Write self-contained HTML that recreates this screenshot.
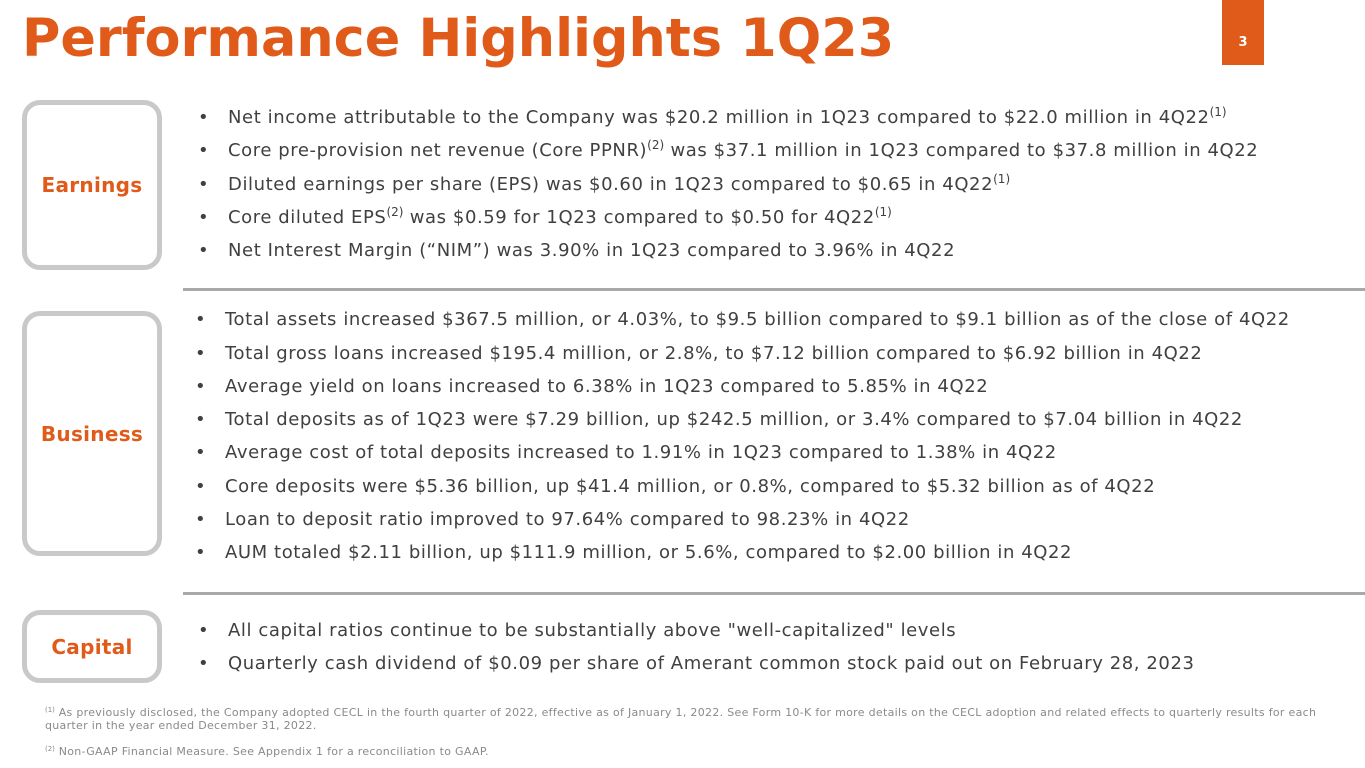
<!DOCTYPE html>
<html><head><meta charset="utf-8"><style>
body{margin:0;width:1365px;height:768px;background:#fff;position:relative;overflow:hidden;font-family:"DejaVu Sans","Liberation Sans",sans-serif;}
.t{position:absolute;left:22px;top:8px;font-size:52.4px;font-weight:bold;color:#E05A19;white-space:nowrap;letter-spacing:0px}
.badge{position:absolute;left:1222px;top:0;width:42px;height:65px;background:#E05A19;color:#fff;font-size:13px;font-weight:bold;text-align:center;line-height:86px}
.box{position:absolute;left:22px;width:130px;border:5px solid #c9c9c9;border-radius:18px;display:flex;align-items:center;justify-content:center;color:#E05A19;font-weight:bold;font-size:20px;letter-spacing:0.3px}
.sep{position:absolute;left:183px;width:1182px;height:3px;background:#a8a8a8}
.r{position:absolute;font-size:18px;letter-spacing:0.58px;color:#404040;white-space:nowrap;line-height:20px}
.r:before{content:"•";position:absolute;left:-30px}
sup{font-size:12px;vertical-align:7px;line-height:0;letter-spacing:0}
.f{position:absolute;left:45px;font-size:11px;letter-spacing:0.3px;color:#8a8a8a;line-height:13px;width:1300px}
</style></head><body>
<div class="t">Performance Highlights 1Q23</div>
<div class="badge">3</div>
<div class="box" style="top:100px;height:160px">Earnings</div>
<div class="box" style="top:311px;height:235px">Business</div>
<div class="box" style="top:610px;height:63px">Capital</div>
<div class="sep" style="top:288px"></div>
<div class="sep" style="top:592px"></div>
<div class="r" style="left:228px;top:108px">Net income attributable to the Company was $20.2 million in 1Q23 compared to $22.0 million in 4Q22<sup>(1)</sup></div>
<div class="r" style="left:228px;top:141px">Core pre-provision net revenue (Core PPNR)<sup>(2)</sup> was $37.1 million in 1Q23 compared to $37.8 million in 4Q22</div>
<div class="r" style="left:228px;top:175px">Diluted earnings per share (EPS) was $0.60 in 1Q23 compared to $0.65 in 4Q22<sup>(1)</sup></div>
<div class="r" style="left:228px;top:208px">Core diluted EPS<sup>(2)</sup> was $0.59 for 1Q23 compared to $0.50 for 4Q22<sup>(1)</sup></div>
<div class="r" style="left:228px;top:241px">Net Interest Margin (“NIM”) was 3.90% in 1Q23 compared to 3.96% in 4Q22</div>
<div class="r" style="left:225px;top:310px">Total assets increased $367.5 million, or 4.03%, to $9.5 billion compared to $9.1 billion as of the close of 4Q22</div>
<div class="r" style="left:225px;top:344px">Total gross loans increased $195.4 million, or 2.8%, to $7.12 billion compared to $6.92 billion in 4Q22</div>
<div class="r" style="left:225px;top:377px">Average yield on loans increased to 6.38% in 1Q23 compared to 5.85% in 4Q22</div>
<div class="r" style="left:225px;top:410px">Total deposits as of 1Q23 were $7.29 billion, up $242.5 million, or 3.4% compared to $7.04 billion in 4Q22</div>
<div class="r" style="left:225px;top:443px">Average cost of total deposits increased to 1.91% in 1Q23 compared to 1.38% in 4Q22</div>
<div class="r" style="left:225px;top:477px">Core deposits were $5.36 billion, up $41.4 million, or 0.8%, compared to $5.32 billion as of 4Q22</div>
<div class="r" style="left:225px;top:510px">Loan to deposit ratio improved to 97.64% compared to 98.23% in 4Q22</div>
<div class="r" style="left:225px;top:543px">AUM totaled $2.11 billion, up $111.9 million, or 5.6%, compared to $2.00 billion in 4Q22</div>
<div class="r" style="left:228px;top:621px">All capital ratios continue to be substantially above "well-capitalized" levels</div>
<div class="r" style="left:228px;top:654px">Quarterly cash dividend of $0.09 per share of Amerant common stock paid out on February 28, 2023</div>
<div class="f" style="top:706px"><sup style="font-size:7px;vertical-align:4px">(1)</sup> As previously disclosed, the Company adopted CECL in the fourth quarter of 2022, effective as of January 1, 2022. See Form 10-K for more details on the CECL adoption and related effects to quarterly results for each quarter in the year ended December 31, 2022.</div>
<div class="f" style="top:745px"><sup style="font-size:7px;vertical-align:4px">(2)</sup> Non-GAAP Financial Measure. See Appendix 1 for a reconciliation to GAAP.</div>
</body></html>
